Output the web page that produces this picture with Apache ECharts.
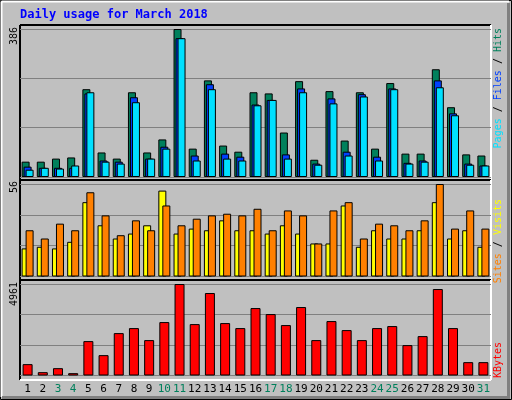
<!DOCTYPE html>
<html><head><meta charset="utf-8">
<script src="https://cdn.jsdelivr.net/npm/echarts@6/dist/echarts.min.js"></script>
<style>html,body{margin:0;padding:0;background:#c0c0c0}#c{width:512px;height:400px}</style>
</head><body><div id="c"></div>
<script>
const days = ['1','2','3','4','5','6','7','8','9','10','11','12','13','14','15','16','17','18','19','20','21','22','23','24','25','26','27','28','29','30','31'];
const weekendDays = ['3','4','10','11','17','18','24','25','31'];
const hits  = [40,40,48,51,229,64,48,221,64,98,386,74,252,82,66,221,218,116,250,45,224,95,221,74,245,61,61,281,182,59,56];
const files = [27,24,24,24,218,43,40,208,48,79,362,56,242,61,53,189,201,59,231,35,205,66,216,53,231,37,43,252,166,35,30];
const pages = [19,24,22,30,221,40,35,195,48,74,362,43,229,48,43,187,201,48,221,32,192,56,210,43,229,35,40,234,161,32,30];
const visits = [17,18,17,21,45,31,23,26,31,52,26,29,28,34,28,28,26,31,26,20,20,43,18,28,23,23,28,45,23,28,18];
const sites  = [28,23,32,28,51,37,25,34,28,43,31,35,37,38,37,41,28,40,37,20,40,45,23,32,31,28,34,56,29,40,29];
const kbytes = [616,181,398,127,1865,1104,2299,2571,1919,2897,4961,2788,4472,2843,2571,3657,3331,2734,3712,1919,2951,2462,1919,2571,2680,1648,2136,4689,2571,724,724];
const maxLabels = ['386','56','4961'];
const maxHits = 386, maxSites = 56, maxKB = 4961;

const MONO = 'DejaVu Sans Mono';
const chart = echarts.init(document.getElementById('c'), null, {renderer:'canvas'});
const grids = [
  {left:20, right:21, top:29, height:148},
  {left:20, right:21, top:184, height:92.5},
  {left:20, right:21, top:284, height:91.5}
];
function xAx(i, show){
  return {gridIndex:i, type:'category', data:days, boundaryGap:true,
    axisLine:{show:false}, axisTick:{show:false},
    axisLabel:{show:show, margin:8, fontFamily:MONO, fontSize:11, interval:0,
      formatter:v=>weekendDays.includes(v)?'{w|'+v+'}':'{d|'+v+'}',
      rich:{w:{color:'#00805c',fontFamily:MONO,fontSize:11},d:{color:'#000',fontFamily:MONO,fontSize:11}}}};
}
function yAx(i, max){
  return {gridIndex:i, type:'value', min:0, max:max, interval:max/3,
    axisLine:{show:false}, axisTick:{show:false}, axisLabel:{show:false},
    splitLine:{show:true, lineStyle:{color:'#808080', width:1}}};
}
const bs = {borderColor:'#000', borderWidth:1};
function bar(name, data, xi, color, w, gap){
  return {name, type:'bar', data, xAxisIndex:xi, yAxisIndex:xi, barWidth:w, barGap:gap,
    itemStyle:Object.assign({color}, bs), animation:false, silent:true};
}
function panelFrame(top, h){
  const l=20, r=491;
  return [
    {type:'line', shape:{x1:l,y1:top,x2:r,y2:top}, style:{stroke:'#000',lineWidth:2}},
    {type:'line', shape:{x1:l,y1:top,x2:l,y2:top+h}, style:{stroke:'#000',lineWidth:2}},
    {type:'line', shape:{x1:l,y1:top+h,x2:r,y2:top+h}, style:{stroke:'#fff',lineWidth:2}},
    {type:'line', shape:{x1:r,y1:top,x2:r,y2:top+h}, style:{stroke:'#fff',lineWidth:2}}
  ];
}
function vtext(x, y, rich, text){
  return {type:'text', x, y, rotation:Math.PI/2, silent:true,
    style:{text, rich, fill:'#000', fontFamily:MONO, fontSize:10, align:'right', verticalAlign:'middle'}};
}
const rt = c=>({fill:c, color:c, fontFamily:MONO, fontSize:10});
chart.setOption({
  backgroundColor:'#c0c0c0',
  animation:false,
  grid:grids,
  xAxis:[xAx(0,false), xAx(1,false), xAx(2,true)],
  yAxis:[yAx(0,maxHits), yAx(1,maxSites), yAx(2,maxKB)],
  series:[
    bar('Hits', hits, 0, '#00805c', 8, '-75%'),
    bar('Files', files, 0, '#0040ff', 8, '-75%'),
    bar('Pages', pages, 0, '#00e0ff', 8, '-75%'),
    bar('Visits', visits, 1, '#ffff00', 8, '-50%'),
    bar('Sites', sites, 1, '#ff8000', 8, '-50%'),
    bar('KBytes', kbytes, 2, '#ff0000', 10, '0%')
  ],
  graphic:[
    {type:'rect', shape:{x:0.5,y:0.5,width:511,height:399}, style:{fill:null, stroke:'#000', lineWidth:1}},
    {type:'line', shape:{x1:1.5,y1:1.5,x2:509,y2:1.5}, style:{stroke:'#fff',lineWidth:2}},
    {type:'line', shape:{x1:1.5,y1:1.5,x2:1.5,y2:397}, style:{stroke:'#fff',lineWidth:2}},
    {type:'line', shape:{x1:508.5,y1:3,x2:508.5,y2:398}, style:{stroke:'#808080',lineWidth:3}},
    {type:'line', shape:{x1:2,y1:397.5,x2:510,y2:397.5}, style:{stroke:'#808080',lineWidth:3}},
    {type:'text', x:20, y:15, silent:true, style:{text:'Daily usage for March 2018', fill:'#0000ff', fontFamily:MONO, fontWeight:'bold', fontSize:12, align:'left', verticalAlign:'middle'}},
    ...panelFrame(25,155), ...panelFrame(180,100), ...panelFrame(280,100),
    vtext(14, 27, {}, maxLabels[0]),
    vtext(14, 181, {}, maxLabels[1]),
    vtext(14, 282, {}, maxLabels[2]),
    vtext(498, 28, {p:rt('#00e0ff'), f:rt('#0040ff'), h:rt('#00805c'), k:rt('#000')}, '{p|Pages}{k| / }{f|Files}{k| / }{h|Hits}'),
    vtext(498, 199, {s:rt('#ff8000'), v:rt('#ffff00'), k:rt('#000')}, '{s|Sites}{k| / }{v|Visits}'),
    vtext(498, 342, {r:rt('#ff0000')}, '{r|KBytes}')
  ]
});
</script></body></html>
